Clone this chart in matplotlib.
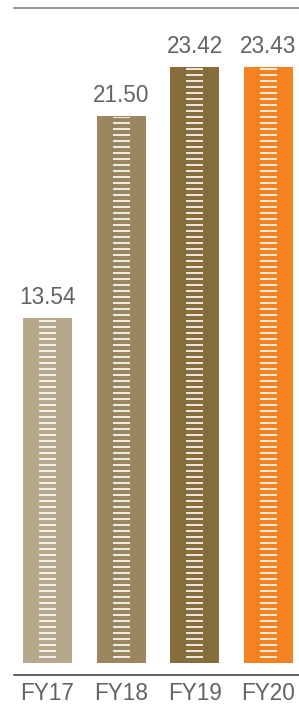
import matplotlib
matplotlib.use("Agg")
import matplotlib.pyplot as plt

categories = ["FY17", "FY18", "FY19", "FY20"]
values = [13.54, 21.50, 23.42, 23.43]
labels = ["13.54", "21.50", "23.42", "23.43"]
colors = ["#b6a88a", "#9c8660", "#856d3c", "#f48220"]

DPI = 108
W, H = 299, 708
plt.rcParams['hatch.linewidth'] = 1.1
fig = plt.figure(figsize=(W / DPI, H / DPI), dpi=DPI)
ax = fig.add_axes([14 / W, 1 - 675 / H, (299 - 14) / W, (675 - 8) / H])

x = list(range(len(categories)))
ax.bar(x, values, width=0.665, color=colors, linewidth=0, zorder=2)
inner = [v - 0.15 for v in values]
ax.bar(x, inner, width=0.235, bottom=0.1, color=colors, edgecolor="white",
       linewidth=0, hatch="---", zorder=3)

for xi, v, lab in zip(x, values, labels):
    ax.text(xi, v + 0.55, lab, ha="center", va="baseline", fontsize=15,
            color="#636363", family="Liberation Sans")

ax.set_xlim(-0.455, 3.414)
ax.set_ylim(-0.47, 25.74)
ax.set_xticks(x)
ax.set_xticklabels(categories, fontsize=15, color="#636363",
                   family="Liberation Sans")
ax.tick_params(axis="x", length=0, pad=5)
ax.set_yticks([])
for s in ["left", "right"]:
    ax.spines[s].set_visible(False)
ax.spines["bottom"].set_color("#333333")
ax.spines["bottom"].set_linewidth(1.0)
ax.spines["top"].set_color("#777777")
ax.spines["top"].set_linewidth(1.0)

fig.savefig("out.png", dpi=DPI)
